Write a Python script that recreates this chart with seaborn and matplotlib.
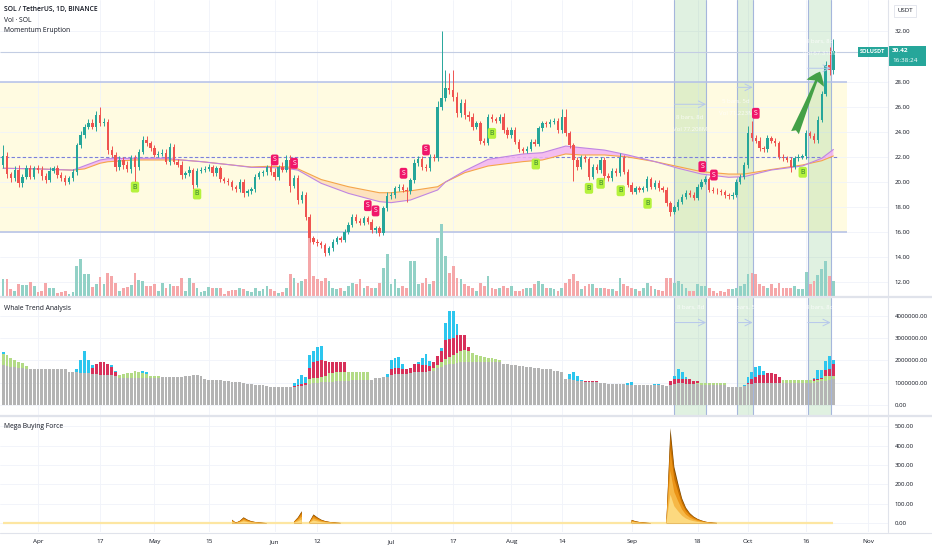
import numpy as np
import pandas as pd
import matplotlib

matplotlib.use("Agg")
import matplotlib.pyplot as plt
import seaborn as sns
from matplotlib.lines import Line2D
from matplotlib.patches import Rectangle

sns.set_theme(style="white")
plt.rcParams["font.family"] = ["Open Sans", "DejaVu Sans"]

# ---------------------------------------------------------------- data
START = pd.Timestamp("2023-03-23")
ORIGIN = pd.Timestamp("2023-04-01")  # day 0 of the x axis

first_open = 21.36
closes = [
    22.08, 20.62, 20.30, 20.96, 19.90, 20.43, 21.10, 20.43, 21.10, 20.95,
    20.50, 20.20, 20.90, 21.10, 20.60, 20.30, 20.03, 20.30, 20.83, 22.95,
    23.75, 24.41, 24.73, 24.40, 25.34, 24.68, 24.81, 22.55, 22.16, 21.17,
    21.76, 21.36, 21.01, 21.89, 21.20, 22.42, 23.35, 23.10, 22.69, 22.16,
    22.24, 22.30, 21.63, 22.82, 21.63, 21.40, 20.56, 20.70, 20.96, 19.77,
    20.91, 21.00, 21.05, 21.17, 20.70, 21.10, 20.22, 20.10, 20.00, 19.58,
    19.42, 20.03, 19.10, 19.25, 19.42, 20.43, 20.70, 20.80, 21.17, 20.80,
    20.38, 21.17, 21.00, 21.76, 19.70, 20.30, 18.57, 18.97, 17.24, 15.52,
    15.25, 15.12, 14.98, 14.37, 14.72, 15.25, 15.52, 15.40, 16.05, 16.58,
    17.24, 16.90, 16.75, 17.10, 16.85, 16.18, 16.30, 15.97, 17.90, 18.89,
    18.97, 19.50, 19.63, 19.40, 19.25, 20.16, 21.50, 21.81, 21.23, 21.10,
    22.02, 21.90, 25.95, 26.67, 27.47, 27.30, 26.80, 25.48, 26.33, 25.35,
    25.20, 24.41, 24.68, 23.30, 23.14, 25.16, 25.00, 24.90, 25.20, 24.15,
    23.75, 24.15, 23.22, 22.60, 22.50, 22.65, 23.22, 23.05, 24.28, 24.68,
    24.60, 24.81, 24.90, 24.15, 25.20, 23.88, 22.95, 21.76, 21.23, 21.97,
    21.80, 20.43, 21.23, 20.96, 21.76, 20.50, 20.30, 20.90, 20.70, 21.95,
    20.83, 19.77, 19.24, 19.50, 19.40, 19.50, 20.22, 19.63, 19.95, 19.50,
    19.37, 18.30, 17.64, 17.99, 18.44, 18.84, 19.16, 19.00, 18.75, 19.63,
    20.03, 20.22, 19.37, 19.30, 19.25, 19.20, 18.95, 18.85, 19.00, 20.03,
    20.43, 21.36, 23.88, 23.48, 23.30, 22.69, 22.60, 23.48, 23.30, 23.09,
    22.02, 21.90, 21.76, 21.23, 21.90, 22.00, 22.05, 23.88, 23.70, 23.35,
    24.95, 27.02, 29.33, 28.93, 30.42,
]
wick_up = [
    0.9, 0.3, 0.2, 0.3, 0.4, 0.2, 0.3, 0.3, 0.2, 0.3,
    0.3, 0.2, 0.3, 0.2, 0.3, 0.2, 0.3, 0.2, 0.2, 0.2,
    0.3, 0.2, 0.3, 0.3, 0.3, 0.66, 0.3, 0.25, 0.3, 0.2,
    0.3, 0.2, 0.3, 0.3, 0.3, 0.2, 0.35, 0.3, 0.2, 0.3,
    0.2, 0.3, 0.3, 0.3, 0.2, 0.2, 0.3, 0.2, 0.3, 0.2,
    0.2, 0.2, 0.2, 0.3, 0.2, 0.2, 0.2, 0.2, 0.2, 0.2,
    0.2, 0.2, 0.2, 0.2, 0.2, 0.2, 0.2, 0.2, 0.2, 0.3,
    0.3, 0.2, 0.4, 0.4, 0.4, 0.3, 0.3, 0.3, 0.2, 0.2,
    0.2, 0.2, 0.2, 0.2, 0.2, 0.2, 0.2, 0.2, 0.2, 0.2,
    0.2, 0.2, 0.2, 0.2, 0.2, 0.2, 0.2, 0.2, 0.2, 0.3,
    0.2, 0.2, 0.2, 0.2, 0.2, 0.2, 0.3, 0.3, 0.3, 0.2,
    0.2, 0.2, 0.5, 5.4, 1.5, 1.2, 1.6, 0.4, 0.3, 0.3,
    0.3, 0.3, 0.2, 0.2, 0.2, 0.3, 0.3, 0.2, 0.2, 0.3,
    0.2, 0.2, 0.2, 0.2, 0.2, 0.2, 0.2, 0.2, 0.2, 0.2,
    0.2, 0.2, 0.2, 0.2, 0.6, 0.6, 0.2, 0.2, 0.2, 0.2,
    0.2, 0.2, 0.2, 0.2, 0.2, 0.2, 0.2, 0.2, 0.2, 0.4,
    0.2, 0.2, 0.2, 0.2, 0.2, 0.2, 0.3, 0.2, 0.2, 0.2,
    0.2, 0.2, 0.2, 0.2, 0.2, 0.2, 0.2, 0.2, 0.2, 0.2,
    0.2, 0.3, 0.2, 0.2, 0.2, 0.2, 0.2, 0.2, 0.2, 0.2,
    0.2, 0.2, 0.6, 1.0, 0.3, 0.3, 0.2, 0.3, 0.2, 0.2,
    0.2, 0.2, 0.2, 0.2, 0.2, 0.2, 0.2, 0.3, 0.2, 0.2,
    0.3, 0.2, 0.3, 1.4, 1.0,
]
wick_dn = [
    0.2, 0.3, 0.3, 0.2, 0.3, 0.3, 0.2, 0.2, 0.2, 0.2,
    0.3, 0.3, 0.2, 0.2, 0.3, 0.2, 0.3, 0.2, 0.2, 0.3,
    0.2, 0.2, 0.2, 0.2, 0.3, 0.2, 0.2, 0.3, 0.2, 0.3,
    0.2, 0.3, 0.2, 0.3, 1.2, 0.2, 0.2, 0.2, 0.2, 0.2,
    0.2, 0.2, 0.2, 0.3, 0.2, 0.2, 0.3, 0.2, 0.2, 0.3,
    0.2, 0.2, 0.2, 0.2, 0.2, 0.2, 0.2, 0.2, 0.2, 0.2,
    0.2, 0.2, 0.3, 0.2, 0.2, 0.2, 0.2, 0.2, 0.2, 0.2,
    0.2, 0.2, 0.2, 0.2, 0.5, 0.2, 0.3, 0.2, 0.3, 0.3,
    0.2, 0.2, 0.2, 0.3, 0.2, 0.2, 0.2, 0.2, 0.2, 0.2,
    0.2, 0.2, 0.2, 0.2, 0.2, 0.2, 0.2, 0.3, 0.2, 0.2,
    0.2, 0.2, 0.2, 0.2, 0.85, 0.2, 0.2, 0.2, 0.3, 0.2,
    0.2, 0.2, 0.2, 0.2, 0.2, 0.3, 0.3, 0.3, 0.3, 0.3,
    0.3, 0.3, 0.2, 0.3, 0.2, 0.2, 0.2, 0.2, 0.2, 0.2,
    0.2, 0.2, 0.2, 0.2, 0.2, 0.2, 0.2, 0.2, 0.2, 0.2,
    0.2, 0.2, 0.2, 0.2, 0.2, 0.2, 0.2, 1.7, 0.3, 0.2,
    0.2, 0.3, 0.2, 0.2, 0.2, 0.3, 0.2, 0.2, 0.2, 0.2,
    0.2, 0.2, 0.2, 0.2, 0.2, 0.2, 0.2, 0.2, 0.2, 0.2,
    0.2, 0.2, 0.35, 0.2, 0.2, 0.2, 0.2, 0.2, 0.2, 0.2,
    0.2, 0.2, 0.2, 0.2, 0.2, 0.2, 0.2, 0.2, 0.2, 0.2,
    0.2, 0.2, 0.2, 0.2, 0.2, 0.2, 0.2, 0.2, 0.2, 0.2,
    0.2, 0.2, 0.2, 0.4, 0.2, 0.2, 0.2, 0.2, 0.2, 0.2,
    0.2, 0.2, 0.2, 0.4, 0.3,
]
volume = [
    16.7, 16.7, 6.7, 5.0, 11.7, 11.0, 11.0, 14.3, 10.0, 4.3,
    5.0, 13.3, 7.7, 7.7, 3.3, 4.0, 5.0, 2.3, 4.3, 30.0,
    37.3, 21.7, 22.3, 9.0, 11.7, 19.0, 11.7, 22.7, 20.0, 13.3,
    5.0, 7.7, 9.0, 11.0, 23.3, 15.7, 15.0, 10.0, 10.0, 11.7,
    5.0, 13.3, 8.3, 11.7, 10.0, 10.0, 17.7, 5.0, 17.7, 13.3,
    8.3, 4.3, 5.0, 9.0, 7.7, 7.7, 7.7, 1.7, 5.0, 5.7,
    5.7, 8.3, 6.7, 5.0, 4.3, 7.7, 5.0, 6.7, 10.0, 6.7,
    5.0, 3.3, 4.3, 8.3, 21.7, 18.0, 13.0, 15.0, 16.7, 61.7,
    20.0, 16.7, 15.0, 18.3, 15.0, 8.3, 6.7, 8.3, 5.0, 10.0,
    13.3, 11.7, 16.7, 8.3, 10.0, 8.3, 8.3, 13.3, 28.3, 41.7,
    11.7, 16.7, 8.3, 10.0, 8.3, 35.0, 35.0, 11.7, 13.3, 18.3,
    11.7, 15.0, 58.3, 71.7, 40.0, 23.3, 30.0, 18.3, 16.7, 11.7,
    10.0, 8.3, 5.0, 13.3, 10.0, 20.0, 8.3, 6.7, 8.3, 10.0,
    8.3, 10.0, 5.0, 5.0, 6.7, 8.3, 8.3, 11.7, 15.0, 11.7,
    8.3, 8.3, 6.7, 5.0, 8.3, 13.3, 16.7, 21.7, 15.0, 6.7,
    10.0, 11.7, 11.7, 8.3, 8.3, 8.3, 6.7, 6.7, 5.0, 18.3,
    11.7, 10.0, 8.3, 6.7, 5.0, 8.3, 13.3, 10.0, 6.7, 5.7,
    5.0, 18.3, 18.3, 13.3, 15.0, 11.7, 8.3, 5.0, 5.0, 11.7,
    10.0, 10.0, 8.3, 5.0, 3.3, 5.0, 4.3, 6.7, 6.7, 8.3,
    10.0, 11.7, 21.7, 23.3, 21.7, 11.7, 10.0, 8.3, 11.7, 8.3,
    13.3, 8.3, 8.3, 8.3, 10.0, 6.7, 6.7, 24.0, 11.7, 15.0,
    21.0, 27.0, 35.0, 20.0, 15.0,
]

# whale trend (millions)
whale_base = [
    1.78, 1.75, 1.72, 1.70, 1.67, 1.65, 1.63, 1.62, 1.62, 1.62,
    1.62, 1.62, 1.62, 1.62, 1.62, 1.62, 1.62, 1.50, 1.48, 1.48,
    1.46, 1.45, 1.44, 1.40, 1.38, 1.37, 1.37, 1.36, 1.36, 1.30,
    1.20, 1.20, 1.20, 1.20, 1.20, 1.20, 1.20, 1.20, 1.23, 1.23,
    1.23, 1.24, 1.24, 1.24, 1.24, 1.24, 1.28, 1.30, 1.32, 1.35,
    1.36, 1.30, 1.15, 1.13, 1.13, 1.12, 1.12, 1.08, 1.06, 1.05,
    1.05, 1.03, 0.98, 0.95, 0.93, 0.92, 0.92, 0.90, 0.85, 0.82,
    0.81, 0.80, 0.80, 0.80, 0.80, 0.82, 0.84, 0.86, 0.90, 0.96,
    0.98, 1.00, 1.02, 1.03, 1.04, 1.05, 1.08, 1.09, 1.10, 1.10,
    1.11, 1.11, 1.11, 1.11, 1.12, 1.14, 1.20, 1.22, 1.24, 1.28,
    1.36, 1.38, 1.38, 1.38, 1.39, 1.45, 1.47, 1.48, 1.48, 1.50,
    1.52, 1.55, 1.65, 1.72, 1.78, 1.82, 1.86, 1.90, 1.93, 1.93,
    1.93, 1.93, 1.93, 1.93, 1.93, 1.93, 1.93, 1.93, 1.93, 1.85,
    1.82, 1.80, 1.78, 1.76, 1.74, 1.72, 1.70, 1.68, 1.66, 1.64,
    1.62, 1.60, 1.55, 1.52, 1.48, 1.19, 1.16, 1.13, 1.10, 1.06,
    1.04, 1.04, 1.04, 1.04, 0.98, 0.97, 0.96, 0.96, 0.95, 0.95,
    0.94, 0.92, 0.92, 0.91, 0.90, 0.90, 0.89, 0.89, 0.89, 0.88,
    0.88, 0.87, 0.92, 0.95, 0.97, 0.97, 0.96, 0.95, 0.94, 0.93,
    0.89, 0.89, 0.89, 0.89, 0.89, 0.89, 0.89, 0.82, 0.81, 0.81,
    0.83, 0.85, 0.93, 0.96, 0.97, 0.98, 0.99, 0.99, 1.00, 1.00,
    1.00, 0.99, 0.98, 0.98, 0.97, 0.97, 0.97, 0.98, 0.99, 1.00,
    1.03, 1.06, 1.10, 1.14, 1.18,
]
whale_green = {
    -9: 0.52, -8: 0.50, -7: 0.38, -6: 0.30, -5: 0.28, -4: 0.25, -3: 0.10,
    21: 0.15, 22: 0.20, 23: 0.22, 24: 0.25, 25: 0.32, 26: 0.28, 27: 0.22,
    28: 0.18, 29: 0.08, 30: 0.07, 31: 0.06, 32: 0.03,
    70: 0.20, 71: 0.22, 72: 0.22, 73: 0.25, 74: 0.27, 75: 0.38, 76: 0.40,
    77: 0.40, 78: 0.40, 79: 0.38, 80: 0.38, 81: 0.38, 82: 0.38, 83: 0.38,
    84: 0.38, 85: 0.36,
    102: 0.10, 103: 0.15, 104: 0.20, 105: 0.30, 106: 0.35, 107: 0.40,
    108: 0.45, 109: 0.50, 110: 0.52, 111: 0.50, 112: 0.40, 113: 0.30,
    114: 0.25, 115: 0.22, 116: 0.20, 117: 0.20, 118: 0.15, 119: 0.10,
    170: 0.05, 171: 0.10, 172: 0.10, 173: 0.10, 174: 0.10, 175: 0.10,
    176: 0.10, 177: 0.10,
    192: 0.15, 193: 0.15, 194: 0.15, 195: 0.15, 196: 0.15, 197: 0.15,
    198: 0.15, 199: 0.15, 200: 0.10, 201: 0.08, 202: 0.10, 203: 0.20,
    204: 0.15, 205: 0.12,
}
whale_red = {
    14: 0.25, 15: 0.45, 16: 0.56, 17: 0.56, 18: 0.50, 19: 0.35, 20: 0.20,
    66: 0.05, 67: 0.08, 68: 0.10, 69: 0.10, 70: 0.50, 71: 0.72, 72: 0.75,
    73: 0.75, 74: 0.67, 75: 0.50, 76: 0.48, 77: 0.45, 78: 0.44, 79: 0.45,
    91: 0.25, 92: 0.27, 93: 0.27, 94: 0.25, 95: 0.22, 96: 0.20, 97: 0.35,
    98: 0.35, 99: 0.30, 100: 0.28, 101: 0.25, 102: 0.30, 103: 0.40,
    104: 0.52, 105: 0.84, 106: 0.78, 107: 0.74, 108: 0.81, 109: 0.71,
    110: 0.68, 111: 0.17,
    141: 0.05, 142: 0.05, 143: 0.05, 144: 0.05,
    163: 0.15, 164: 0.20, 165: 0.20, 166: 0.18, 167: 0.19, 168: 0.20,
    169: 0.15, 170: 0.08,
    183: 0.05, 184: 0.23, 185: 0.29, 186: 0.35, 187: 0.38, 188: 0.44,
    189: 0.44, 190: 0.40, 191: 0.26,
    200: 0.05, 201: 0.08, 202: 0.07, 203: 0.26, 204: 0.34, 205: 0.55,
}
whale_blue = {
    -9: 0.10, 10: 0.15, 11: 0.56, 12: 0.99, 13: 0.58, 14: 0.15, 19: 0.08,
    20: 0.05, 27: 0.12, 28: 0.12,
    66: 0.10, 67: 0.27, 68: 0.41, 69: 0.24, 70: 0.60, 71: 0.50, 72: 0.65,
    73: 0.65,
    90: 0.10, 91: 0.40, 92: 0.45, 93: 0.50, 94: 0.20, 98: 0.10, 99: 0.35,
    100: 0.50, 101: 0.20, 104: 0.10, 105: 0.75, 106: 1.27, 107: 1.22,
    108: 0.49,
    137: 0.22, 138: 0.35, 139: 0.20, 140: 0.05, 152: 0.08, 153: 0.10,
    159: 0.06, 160: 0.06,
    164: 0.15, 165: 0.45, 166: 0.35, 167: 0.12,
    182: 0.05, 183: 0.30, 184: 0.29, 185: 0.44, 186: 0.40, 187: 0.18,
    200: 0.05, 201: 0.40, 202: 0.36, 203: 0.40, 204: 0.58, 205: 0.19,
}

# mega buying force
mega_force = {
    50: 18, 51: 2, 52: 12, 53: 30, 54: 18, 55: 10, 56: 6, 57: 3, 58: 1.5,
    59: 0.5,
    66: 8, 67: 30, 68: 62, 70: 8, 71: 45, 72: 30, 73: 18, 74: 11, 75: 7,
    76: 4, 77: 2, 78: 1,
    153: 17, 154: 10, 155: 6, 156: 3, 157: 1.5, 158: 0.5,
    162: 30, 163: 490, 164: 290, 165: 205, 166: 128, 167: 80, 168: 52,
    169: 34, 170: 22, 171: 14, 172: 8, 173: 4, 174: 2, 175: 1,
}

# two moving averages of the momentum indicator
ma_days = [-9, 0, 9, 12, 16, 18, 25, 33, 37, 42, 50, 55, 59, 64, 67, 73, 80,
           88, 91, 96, 103, 105, 110, 116, 125, 130, 136, 140, 146, 152, 159,
           165, 171, 178, 182, 189, 197, 202, 205]
ma_slow = [21.10, 21.05, 20.95, 21.05, 21.50, 21.62, 21.76, 21.76, 21.76,
           21.63, 21.36, 21.20, 21.25, 21.22, 21.05, 20.20, 19.63, 19.15,
           19.15, 19.30, 19.63, 20.00, 20.75, 21.28, 21.63, 21.76, 22.24,
           22.16, 22.16, 22.00, 21.63, 21.23, 20.83, 20.64, 20.64, 21.00,
           21.36, 21.70, 22.08]
ma_fast = [21.10, 21.05, 20.95, 21.30, 21.76, 21.86, 21.90, 21.90, 21.76,
           21.63, 21.36, 21.17, 21.17, 21.10, 20.95, 19.90, 19.10, 18.44,
           18.36, 18.57, 19.37, 20.00, 20.90, 21.81, 22.24, 22.34, 22.87,
           22.74, 22.55, 22.16, 21.63, 21.10, 20.64, 20.38, 20.43, 20.96,
           21.28, 21.90, 22.60]

buy_days = [25, 41, 117, 128.3, 142, 145, 150.2, 157.1, 197.1]
buy_prices = [19.60, 19.05, 23.88, 21.44, 19.50, 19.90, 19.31, 18.31, 20.78]
sell_days = [61, 66, 85, 87, 94.2, 100, 171.2, 174.2, 185]
sell_prices = [21.76, 21.50, 18.12, 17.70, 20.70, 22.56, 21.23, 20.56, 25.48]

range_zone = (16.0, 28.0)
mid_level = 22.0
last_line = 30.40
zones = [(164.0, 172.2), (180.2, 184.2), (198.4, 204.3)]
zone_notes = [("8 bars, 8d", "Vol 77.208M"), ("5 bars, 5d", "Vol 71.223M"),
              ("8 bars, 8d", "Vol 67.310M")]

tick_dates = ["2023-04-01", "2023-04-17", "2023-05-01", "2023-05-15",
              "2023-06-01", "2023-06-12", "2023-07-01", "2023-07-17",
              "2023-08-01", "2023-08-14", "2023-09-01", "2023-09-18",
              "2023-10-01", "2023-10-16", "2023-11-01"]
tick_labels = ["Apr", "17", "May", "15", "Jun", "12", "Jul", "17", "Aug",
               "14", "Sep", "18", "Oct", "16", "Nov"]
price_ticks = [12, 14, 16, 18, 20, 22, 24, 26, 28, 32]
whale_ticks = [0, 1, 2, 3, 4]
mega_ticks = [0, 100, 200, 300, 400, 500]

# ---------------------------------------------------------------- frame
days = np.arange(len(closes)) + (START - ORIGIN).days
df = pd.DataFrame({"day": days, "close": closes, "wick_up": wick_up,
                   "wick_dn": wick_dn, "volume": volume, "base": whale_base})
df["open"] = [first_open] + closes[:-1]
df["top"] = df[["open", "close"]].max(axis=1)
df["bot"] = df[["open", "close"]].min(axis=1)
df["high"] = df["top"] + df["wick_up"]
df["low"] = df["bot"] - df["wick_dn"]
df["up"] = df["close"] >= df["open"]
for name, src in (("green", whale_green), ("red", whale_red),
                  ("blue", whale_blue), ("mega", mega_force)):
    df[name] = df["day"].map(src).fillna(0.0)
tick_days = [(pd.Timestamp(t) - ORIGIN).days for t in tick_dates]

# ---------------------------------------------------------------- layout
W, H = 932, 550
PX_DAY, APR1_PX, PANE_R = 3.88, 38.0, 888


def px_day(px):
    return (px - APR1_PX) / PX_DAY


def fig_box(x0, y0, x1, y1):
    return [x0 / W, 1 - y1 / H, (x1 - x0) / W, (y1 - y0) / H]


UP, DOWN = "#26a69a", "#ef5350"
GRID = "#f0f3fa"
SEP = "#e0e3eb"
TXT = "#131722"

fig = plt.figure(figsize=(W / 100, H / 100), dpi=100)
ax = fig.add_axes(fig_box(0, 0, PANE_R, 296))
axw = fig.add_axes(fig_box(0, 298, PANE_R, 415))
axm = fig.add_axes(fig_box(0, 417, PANE_R, 532))
xlim = (px_day(0), px_day(PANE_R))
for a in (ax, axw, axm):
    a.set_xlim(*xlim)
    for s in a.spines.values():
        s.set_visible(False)
    a.set_facecolor("white")
    a.set_xticks(tick_days)
    a.grid(True, color=GRID, lw=0.6, zorder=0)
    a.set_axisbelow(True)
    a.yaxis.tick_right()
    a.tick_params(axis="y", length=0, pad=5, labelsize=4.4, labelcolor=TXT)
    a.tick_params(axis="x", length=0)
ax.set_ylim(10.92, 34.51)
axw.set_ylim(-0.444, 4.8)
axm.set_ylim(-45.6, 547)
ax.tick_params(axis="x", labelbottom=False)
axw.tick_params(axis="x", labelbottom=False)
axm.set_xticklabels(tick_labels)
axm.tick_params(axis="x", pad=5, labelsize=4.6, labelcolor=TXT)
ax.set_yticks(price_ticks)
ax.set_yticklabels([f"{v:.2f}" for v in price_ticks])
axw.set_yticks(whale_ticks)
axw.set_yticklabels([f"{v * 1000000:.2f}" for v in whale_ticks])
axm.set_yticks(mega_ticks)
axm.set_yticklabels([f"{v:.2f}" for v in mega_ticks])

# ---------------------------------------------------------------- main pane
box_r = px_day(847)
ax.add_patch(Rectangle((xlim[0], range_zone[0]), box_r - xlim[0],
                       range_zone[1] - range_zone[0], fc="#fffbe1", ec="none",
                       zorder=0.5))
ax.hlines(range_zone, xlim[0], box_r, colors="#b4c0e6", lw=1.1, zorder=2)
ax.hlines(last_line, xlim[0], xlim[1], colors="#c3cde3", lw=0.8, zorder=2)
ax.hlines(mid_level, xlim[0], df["day"].iloc[-1] + 1, colors="#7b7fd8",
          lw=0.8, linestyles=(0, (3, 2)), zorder=2)

for (a0, a1) in zones:
    for a in (ax, axw):
        a.axvspan(a0, a1, color="#66bb6a", alpha=0.2, lw=0, zorder=1)
        a.axvline(a0, color="#a5b6dc", lw=0.8, zorder=1.2)
        a.axvline(a1, color="#a5b6dc", lw=0.8, zorder=1.2)

ma_fast_a, ma_slow_a = np.array(ma_fast), np.array(ma_slow)
ax.fill_between(ma_days, ma_slow_a, ma_fast_a, where=ma_fast_a >= ma_slow_a,
                interpolate=True, color="#f3b3f2", alpha=0.85, lw=0, zorder=2)
ax.fill_between(ma_days, ma_slow_a, ma_fast_a, where=ma_fast_a < ma_slow_a,
                interpolate=True, color="#fde0bb", alpha=0.9, lw=0, zorder=2)
sns.lineplot(x=ma_days, y=ma_slow, ax=ax, color="#f5a54a", lw=0.8, zorder=3)
sns.lineplot(x=ma_days, y=ma_fast, ax=ax, color="#bf86e2", lw=0.8, zorder=3)

vol_col = np.where(df["up"], "#92d1c6", "#f5a7a9")
ax.bar(df["day"], df["volume"] / 296.0, width=0.72, color=vol_col, lw=0,
       transform=ax.get_xaxis_transform(), zorder=2.5)

col = np.where(df["up"], UP, DOWN)
ax.vlines(df["day"], df["low"], df["high"], colors=col, lw=0.7, zorder=4)
body = np.maximum(df["top"] - df["bot"], 0.07)
ax.bar(df["day"], body, bottom=df["bot"], width=0.62, color=col, lw=0,
       zorder=4.5)

for d, p in zip(buy_days, buy_prices):
    ax.text(d, p, "B", ha="center", va="center", fontsize=5.0,
            color="#2e7d32", zorder=6,
            bbox=dict(boxstyle="round,pad=0.28", fc="#b5f23d", ec="none"))
for d, p in zip(sell_days, sell_prices):
    ax.text(d, p, "S", ha="center", va="center", fontsize=5.0,
            color="white", zorder=6,
            bbox=dict(boxstyle="round,pad=0.28", fc="#f0166a", ec="none"))

ax.annotate("", xy=(px_day(820), 28.8), xytext=(px_day(795), 23.94),
            arrowprops=dict(arrowstyle="fancy,head_length=0.9,head_width=1.35,"
                            "tail_width=0.6", color="#43a047", lw=0,
                            shrinkA=0, shrinkB=0, mutation_scale=10), zorder=7)

# faint date-range tools inside the highlighted zones
note_y = [(25.13, 24.15, 26.2), (26.46, 25.5, 27.55), (31.19, 30.26, 29.07)]
note_x = [px_day(690), px_day(736), px_day(820)]
for (a0, a1), (t1, t2), (y1, y2, yl), nx in zip(zones, zone_notes, note_y,
                                                note_x):
    ax.text(nx, y1, t1, ha="center", va="center", fontsize=4.3,
            color="white", alpha=0.85, zorder=5)
    ax.text(nx, y2, t2, ha="center", va="center", fontsize=4.3,
            color="white", alpha=0.85, zorder=5)
    ax.annotate("", xy=(a1, yl), xytext=(a0, yl),
                arrowprops=dict(arrowstyle="->", color="#b7c8ec", lw=0.7,
                                shrinkA=0, shrinkB=0), zorder=5)
    axw.annotate("", xy=(a1, 3.7), xytext=(a0, 3.7),
                 arrowprops=dict(arrowstyle="->", color="#b7c8ec", lw=0.7,
                                 shrinkA=0, shrinkB=0), zorder=5)
    axw.text((a0 + a1) / 2, 4.37, t1, ha="center", va="center", fontsize=4.3,
             color="white", alpha=0.9, zorder=5)

# ---------------------------------------------------------------- whale pane
bw = 0.74
axw.bar(df["day"], df["base"], width=bw, color="#b4b4b4", lw=0, zorder=2)
axw.bar(df["day"], df["green"], bottom=df["base"], width=bw,
        color="#b3db86", lw=0, zorder=2)
axw.bar(df["day"], df["red"], bottom=df["base"] + df["green"], width=bw,
        color="#d7305a", lw=0, zorder=2)
axw.bar(df["day"], df["blue"], bottom=df["base"] + df["green"] + df["red"],
        width=bw, color="#2cc6ee", lw=0, zorder=2)

# ---------------------------------------------------------------- mega pane
axm.hlines(0, df["day"].iloc[0], df["day"].iloc[-1], colors="#fde6a2",
           lw=1.6, zorder=2)
layers = [(1.0, "#7a4800"), (0.93, "#c66f00"), (0.78, "#eb9417"),
          (0.55, "#f6b847"), (0.3, "#fcd97f")]
for k, c in layers:
    axm.fill_between(df["day"], 0, df["mega"] * k, where=df["mega"] > 0,
                     interpolate=False, color=c, lw=0, zorder=3)

# ---------------------------------------------------------------- chrome
for y in (297, 416):
    fig.add_artist(Line2D([0, 1], [1 - y / H] * 2, color=SEP, lw=1.6))
fig.add_artist(Line2D([0, 1], [1 - 532.5 / H] * 2, color=SEP, lw=0.8))
fig.add_artist(Line2D([PANE_R / W] * 2, [1 - 532 / H, 1], color=SEP, lw=0.8))

fig.text(4 / W, 1 - 10 / H, "SOL / TetherUS, 1D, BINANCE", fontsize=4.9,
         weight="semibold", color=TXT, va="center")
fig.text(4 / W, 1 - 20.5 / H, "Vol · SOL", fontsize=4.9, color=TXT,
         va="center")
fig.text(4 / W, 1 - 31 / H, "Momentum Eruption", fontsize=4.9, color=TXT,
         va="center")
fig.text(4 / W, 1 - 308 / H, "Whale Trend Analysis", fontsize=4.9, color=TXT,
         va="center")
fig.text(4 / W, 1 - 426 / H, "Mega Buying Force", fontsize=4.9, color=TXT,
         va="center")

fig.text(897 / W, 1 - 11 / H, "USDT", fontsize=4.4, color=TXT, va="center",
         bbox=dict(boxstyle="square,pad=0.5", fc="white", ec=SEP, lw=0.6))

teal = "#26a69a"
fig.add_artist(Rectangle((889 / W, 1 - 66 / H), 37 / W, 20.5 / H, fc=teal,
                         ec="none", transform=fig.transFigure))
fig.add_artist(Rectangle((858 / W, 1 - 56.5 / H), 29.5 / W, 10 / H, fc=teal,
                         ec="none", transform=fig.transFigure))
fig.text(872.75 / W, 1 - 51.5 / H, "SOLUSDT", fontsize=4.1, weight="bold",
         color="white", ha="center", va="center")
fig.text(892 / W, 1 - 50.8 / H, "30.42", fontsize=4.6, weight="bold",
         color="white", va="center")
fig.text(892 / W, 1 - 60.5 / H, "16:38:24", fontsize=4.6, color="white",
         va="center")

fig.savefig("out.png", dpi=100)
